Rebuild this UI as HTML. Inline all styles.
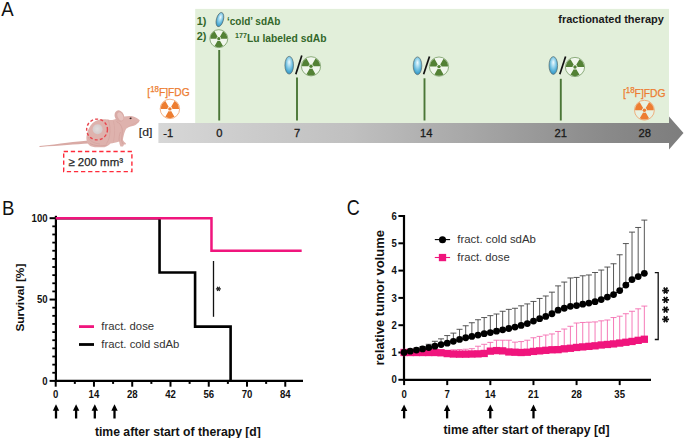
<!DOCTYPE html>
<html><head><meta charset="utf-8"><style>
html,body{margin:0;padding:0;background:#fff;}
body{width:685px;height:438px;position:relative;overflow:hidden;font-family:"Liberation Sans", sans-serif;}
</style></head><body>
<svg width="685" height="438" viewBox="0 0 685 438" style="position:absolute;left:0;top:0" font-family="'Liberation Sans', sans-serif">
<defs>
<linearGradient id="bar" x1="158" y1="0" x2="684" y2="0" gradientUnits="userSpaceOnUse">
<stop offset="0" stop-color="#d7d7d7"/><stop offset="0.061" stop-color="#d3d3d3"/><stop offset="0.184" stop-color="#cbcbcb"/><stop offset="0.365" stop-color="#c0c0c0"/><stop offset="0.603" stop-color="#a6a6a6"/><stop offset="0.85" stop-color="#8a8a8a"/><stop offset="0.964" stop-color="#808080"/><stop offset="1" stop-color="#7d7d7d"/></linearGradient>
<radialGradient id="eg" cx="0.5" cy="0.4" r="0.6" fx="0.5" fy="0.32">
<stop offset="0" stop-color="#f0fbff"/><stop offset="0.4" stop-color="#9ad5ec"/><stop offset="0.8" stop-color="#4aaad4"/><stop offset="1" stop-color="#358fbb"/></radialGradient>
<radialGradient id="tum" cx="0.45" cy="0.45" r="0.6"><stop offset="0" stop-color="#e2dcdc"/><stop offset="1" stop-color="#d2c8c8"/></radialGradient>
</defs>
<text x="1.3" y="15.8" font-size="19.8" fill="#111" textLength="12.4" lengthAdjust="spacingAndGlyphs">A</text>
<rect x="195.2" y="8.9" width="473.8" height="114.6" fill="#e2efda"/>
<path d="M158.4,123 L669,123 L669,116.5 L683.5,133 L669,149.5 L669,143 L158.4,143 Z" fill="url(#bar)"/>
<text x="138.8" y="135.9" font-size="11" fill="#262626" textLength="13.6" lengthAdjust="spacingAndGlyphs" stroke="#262626" stroke-width="0.15">[d]</text>
<text x="168.2" y="137.4" font-size="11.2" fill="#1a1a1a" text-anchor="middle" stroke="#1a1a1a" stroke-width="0.3">-1</text>
<text x="219.3" y="137.4" font-size="11.2" fill="#1a1a1a" text-anchor="middle" stroke="#1a1a1a" stroke-width="0.3">0</text>
<text x="297" y="137.4" font-size="11.2" fill="#1a1a1a" text-anchor="middle" stroke="#1a1a1a" stroke-width="0.3">7</text>
<text x="426.3" y="137.4" font-size="11.2" fill="#1a1a1a" text-anchor="middle" stroke="#1a1a1a" stroke-width="0.3">14</text>
<text x="560.8" y="137.4" font-size="11.2" fill="#1a1a1a" text-anchor="middle" stroke="#1a1a1a" stroke-width="0.3">21</text>
<text x="644.8" y="137.4" font-size="11.2" fill="#1a1a1a" text-anchor="middle" stroke="#1a1a1a" stroke-width="0.3">28</text>
<line x1="219.2" y1="50" x2="219.2" y2="120.5" stroke="#4a7636" stroke-width="1.9"/>
<line x1="297.0" y1="77.6" x2="297.0" y2="120.5" stroke="#4a7636" stroke-width="1.9"/>
<line x1="424.5" y1="78.3" x2="424.5" y2="120.5" stroke="#4a7636" stroke-width="1.9"/>
<line x1="560.8" y1="78.8" x2="560.8" y2="120.5" stroke="#4a7636" stroke-width="1.9"/>
<text x="196.8" y="24.5" font-size="10.8" fill="#33672a" font-weight="bold" textLength="9.7" lengthAdjust="spacingAndGlyphs">1)</text>
<text x="196.8" y="40.1" font-size="10.8" fill="#33672a" font-weight="bold" textLength="9.7" lengthAdjust="spacingAndGlyphs">2)</text>
<ellipse cx="219.9" cy="19.6" rx="3.5" ry="7.3" transform="rotate(15 219.9 19.6)" fill="url(#eg)" stroke="#5a6e70" stroke-width="0.7"/>
<text x="226.9" y="24.5" font-size="10.8" fill="#33672a" font-weight="bold" textLength="53.5" lengthAdjust="spacingAndGlyphs">‘cold’ sdAb</text>
<circle cx="218.8" cy="38.65" r="8.97" fill="#f1f7ed" stroke="#6f955c" stroke-width="0.75"/>
<path d="M221.14,38.65 L227.26,38.65 A8.46,8.46 0 0 0 223.03,31.32 L219.97,36.63 A2.34,2.34 0 0 1 221.14,38.65Z" fill="#538135"/>
<path d="M217.63,36.63 L214.57,31.32 A8.46,8.46 0 0 0 210.34,38.65 L216.46,38.65 A2.34,2.34 0 0 1 217.63,36.63Z" fill="#538135"/>
<path d="M217.63,40.67 L214.57,45.98 A8.46,8.46 0 0 0 223.03,45.98 L219.97,40.67 A2.34,2.34 0 0 1 217.63,40.67Z" fill="#538135"/>
<circle cx="218.8" cy="38.65" r="1.59" fill="#538135"/>
<text x="235" y="41.7" font-size="10.8" fill="#33672a" font-weight="bold" textLength="91.5" lengthAdjust="spacingAndGlyphs"><tspan font-size="7.5" dy="-3.6">177</tspan><tspan dy="3.6">Lu labeled sdAb</tspan></text>
<text x="558.3" y="23.1" font-size="11" fill="#1a1a1a" font-weight="bold" textLength="105.6" lengthAdjust="spacingAndGlyphs">fractionated therapy</text>
<ellipse cx="289.2" cy="65.2" rx="4.3" ry="8.9" transform="rotate(0 289.2 65.2)" fill="url(#eg)" stroke="#5a6e70" stroke-width="0.7"/>
<line x1="295.8" y1="74.2" x2="301.8" y2="55.5" stroke="#111" stroke-width="1.7"/>
<circle cx="311.0" cy="66.3" r="9.62" fill="#f1f7ed" stroke="#6f955c" stroke-width="0.75"/>
<path d="M313.50,66.30 L320.05,66.30 A9.05,9.05 0 0 0 315.52,58.46 L312.25,64.13 A2.50,2.50 0 0 1 313.50,66.30Z" fill="#538135"/>
<path d="M309.75,64.13 L306.48,58.46 A9.05,9.05 0 0 0 301.95,66.30 L308.50,66.30 A2.50,2.50 0 0 1 309.75,64.13Z" fill="#538135"/>
<path d="M309.75,68.47 L306.48,74.14 A9.05,9.05 0 0 0 315.52,74.14 L312.25,68.47 A2.50,2.50 0 0 1 309.75,68.47Z" fill="#538135"/>
<circle cx="311.0" cy="66.3" r="1.70" fill="#538135"/>
<ellipse cx="417.5" cy="65.8" rx="4.3" ry="8.9" transform="rotate(0 417.5 65.8)" fill="url(#eg)" stroke="#5a6e70" stroke-width="0.7"/>
<line x1="423.6" y1="74.2" x2="429.5" y2="56.5" stroke="#111" stroke-width="1.7"/>
<circle cx="439.0" cy="66.6" r="9.62" fill="#f1f7ed" stroke="#6f955c" stroke-width="0.75"/>
<path d="M441.50,66.60 L448.05,66.60 A9.05,9.05 0 0 0 443.52,58.76 L440.25,64.43 A2.50,2.50 0 0 1 441.50,66.60Z" fill="#538135"/>
<path d="M437.75,64.43 L434.48,58.76 A9.05,9.05 0 0 0 429.95,66.60 L436.50,66.60 A2.50,2.50 0 0 1 437.75,64.43Z" fill="#538135"/>
<path d="M437.75,68.77 L434.48,74.44 A9.05,9.05 0 0 0 443.52,74.44 L440.25,68.77 A2.50,2.50 0 0 1 437.75,68.77Z" fill="#538135"/>
<circle cx="439.0" cy="66.6" r="1.70" fill="#538135"/>
<ellipse cx="553.3" cy="65.5" rx="4.3" ry="8.9" transform="rotate(0 553.3 65.5)" fill="url(#eg)" stroke="#5a6e70" stroke-width="0.7"/>
<line x1="559.8" y1="74.2" x2="565.6" y2="56.5" stroke="#111" stroke-width="1.7"/>
<circle cx="575.0" cy="67.0" r="9.62" fill="#f1f7ed" stroke="#6f955c" stroke-width="0.75"/>
<path d="M577.50,67.00 L584.05,67.00 A9.05,9.05 0 0 0 579.52,59.16 L576.25,64.83 A2.50,2.50 0 0 1 577.50,67.00Z" fill="#538135"/>
<path d="M573.75,64.83 L570.48,59.16 A9.05,9.05 0 0 0 565.95,67.00 L572.50,67.00 A2.50,2.50 0 0 1 573.75,64.83Z" fill="#538135"/>
<path d="M573.75,69.17 L570.48,74.84 A9.05,9.05 0 0 0 579.52,74.84 L576.25,69.17 A2.50,2.50 0 0 1 573.75,69.17Z" fill="#538135"/>
<circle cx="575.0" cy="67.0" r="1.70" fill="#538135"/>
<text x="147.3" y="95.9" font-size="10.6" fill="#ed7d31" stroke="#ed7d31" stroke-width="0.25" textLength="42.3" lengthAdjust="spacingAndGlyphs">[<tspan font-size="8.2" dy="-3.7">18</tspan><tspan dy="3.7">F]FDG</tspan></text>
<circle cx="169.9" cy="108.9" r="9.72" fill="#fff" stroke="#f09a5e" stroke-width="0.75"/>
<path d="M172.43,108.90 L179.04,108.90 A9.14,9.14 0 0 0 174.47,100.98 L171.16,106.71 A2.52,2.52 0 0 1 172.43,108.90Z" fill="#ed7d31"/>
<path d="M168.64,106.71 L165.33,100.98 A9.14,9.14 0 0 0 160.76,108.90 L167.38,108.90 A2.52,2.52 0 0 1 168.64,106.71Z" fill="#ed7d31"/>
<path d="M168.64,111.09 L165.33,116.82 A9.14,9.14 0 0 0 174.47,116.82 L171.16,111.09 A2.52,2.52 0 0 1 168.64,111.09Z" fill="#ed7d31"/>
<circle cx="169.9" cy="108.9" r="1.72" fill="#ed7d31"/>
<text x="622.9" y="96.6" font-size="10.6" fill="#ed7d31" stroke="#ed7d31" stroke-width="0.25" textLength="42.6" lengthAdjust="spacingAndGlyphs">[<tspan font-size="8.2" dy="-3.7">18</tspan><tspan dy="3.7">F]FDG</tspan></text>
<circle cx="644.4" cy="110.2" r="9.93" fill="#e8f2e2" stroke="#f09a5e" stroke-width="0.75"/>
<path d="M646.98,110.20 L653.72,110.20 A9.32,9.32 0 0 0 649.06,102.13 L645.69,107.97 A2.58,2.58 0 0 1 646.98,110.20Z" fill="#ed7d31"/>
<path d="M643.11,107.97 L639.74,102.13 A9.32,9.32 0 0 0 635.08,110.20 L641.82,110.20 A2.58,2.58 0 0 1 643.11,107.97Z" fill="#ed7d31"/>
<path d="M643.11,112.43 L639.74,118.27 A9.32,9.32 0 0 0 649.06,118.27 L645.69,112.43 A2.58,2.58 0 0 1 643.11,112.43Z" fill="#ed7d31"/>
<circle cx="644.4" cy="110.2" r="1.75" fill="#ed7d31"/>
<g>
<path d="M88.5,140.4 C76,141.4 60,143.6 39.6,146.1 C38.8,146.3 39.2,146.9 40.2,146.9 C60,145.7 76,144.5 88.5,143.6 Z" fill="#d9aaa5"/>
<path d="M88.2,144 C86.2,141 86,137.5 86.8,134.8 C87.3,131.5 88.6,128.4 90.6,125.4 C93,122 97,119.7 101,119.3 C104.5,119 108,119.4 110,119.9 C112,120.2 114,119.6 115,119.2 C118,118 121,117 124,116.6 C127,116 130,115.6 132.5,116.2 C135.5,117 138.5,118.8 139.8,120.3 C139.3,121.8 138.4,122.8 137.4,123.5 C136.2,124.6 135,125.4 133.8,125.8 C132.4,126.3 131,126.5 129.7,126.7 C128.5,127 127.6,127.4 126.9,128.1 C126,129 125.5,130 125.1,130.9 C124.5,132.5 124,134 123.7,135.4 C123.3,137 123,138.5 122.9,140 C123.5,141.2 124.5,142.2 125.5,143 C126.2,143.6 126.2,144.3 125.3,144.5 L123.5,144.5 C123.8,145.2 123.6,146.2 122.8,146.4 L120.5,146.4 C119.8,145 119.4,143.5 119.2,141.5 C116,142.5 113,143.2 110.5,143.6 C108.8,145.2 107,146.6 104.5,147.2 L95,147.2 C91.6,147 89.4,145.8 88.2,144 Z" fill="#deb2ad"/>
<path d="M116.5,121.5 C119.5,122.8 121.5,125.5 122.2,129 C122.6,132 121.8,136 121.6,140 C121.8,142 122.6,143.5 123.5,144.5" stroke="#cf9a95" stroke-width="0.6" fill="none"/>
<path d="M108,119.5 C110,124 110.5,130 109.5,136 C109,139 108,141.5 106.5,143.5" stroke="#d2a09b" stroke-width="0.6" fill="none"/>
<path d="M113.5,121 C115,127 115,134 113.5,141.5" stroke="#d4a39e" stroke-width="0.5" fill="none"/>
<path d="M119.2,141.5 C118.8,138 119.2,135 120.5,132" stroke="#cc9792" stroke-width="0.5" fill="none"/>
<path d="M90,143.5 C95,146 101,146.4 107,145" stroke="#cf9a95" stroke-width="0.6" fill="none"/>
<path d="M88,137 C90,141 94,143.5 100,144" stroke="#d19d98" stroke-width="0.5" fill="none"/>
<path d="M126.9,128.1 C130,125.2 134,123.6 138.6,121.8" stroke="#d6a6a1" stroke-width="0.5" fill="none"/>
<ellipse cx="119.4" cy="116.1" rx="4.6" ry="6.0" transform="rotate(-25 119.4 116.1)" fill="#d9aba6"/>
<ellipse cx="120.4" cy="116.4" rx="2.6" ry="4.3" transform="rotate(-25 120.4 116.4)" fill="#e6c2be"/>
<ellipse cx="130.6" cy="118.3" rx="1.1" ry="0.8" transform="rotate(-15 130.6 118.3)" fill="#3a2626"/>
<circle cx="97.6" cy="129.3" r="5.0" fill="url(#tum)"/>
<circle cx="97.05" cy="129.5" r="10.4" fill="none" stroke="#e8444c" stroke-width="1.4" stroke-dasharray="3 2.2"/>
</g>
<path d="M63.7,151.5 H131.9 V171.6 H63.7 Z" fill="none" stroke="#ff2b3a" stroke-width="1.4" stroke-dasharray="4.3 2.8"/>
<text x="68.4" y="165.6" font-size="11.4" fill="#262626" textLength="54.6" lengthAdjust="spacingAndGlyphs" stroke="#262626" stroke-width="0.25">≥ 200 mm³</text>
<text x="2.1" y="214.6" font-size="20.6" fill="#111" textLength="12.4" lengthAdjust="spacingAndGlyphs">B</text>
<line x1="52.3" y1="372.76" x2="56" y2="372.76" stroke="#000" stroke-width="1.8"/>
<line x1="52.3" y1="364.63" x2="56" y2="364.63" stroke="#000" stroke-width="1.8"/>
<line x1="52.3" y1="356.50" x2="56" y2="356.50" stroke="#000" stroke-width="1.8"/>
<line x1="52.3" y1="348.36" x2="56" y2="348.36" stroke="#000" stroke-width="1.8"/>
<line x1="52.3" y1="340.22" x2="56" y2="340.22" stroke="#000" stroke-width="1.8"/>
<line x1="52.3" y1="332.09" x2="56" y2="332.09" stroke="#000" stroke-width="1.8"/>
<line x1="52.3" y1="323.95" x2="56" y2="323.95" stroke="#000" stroke-width="1.8"/>
<line x1="52.3" y1="315.82" x2="56" y2="315.82" stroke="#000" stroke-width="1.8"/>
<line x1="52.3" y1="307.69" x2="56" y2="307.69" stroke="#000" stroke-width="1.8"/>
<line x1="52.3" y1="291.41" x2="56" y2="291.41" stroke="#000" stroke-width="1.8"/>
<line x1="52.3" y1="283.28" x2="56" y2="283.28" stroke="#000" stroke-width="1.8"/>
<line x1="52.3" y1="275.14" x2="56" y2="275.14" stroke="#000" stroke-width="1.8"/>
<line x1="52.3" y1="267.01" x2="56" y2="267.01" stroke="#000" stroke-width="1.8"/>
<line x1="52.3" y1="258.88" x2="56" y2="258.88" stroke="#000" stroke-width="1.8"/>
<line x1="52.3" y1="250.74" x2="56" y2="250.74" stroke="#000" stroke-width="1.8"/>
<line x1="52.3" y1="242.60" x2="56" y2="242.60" stroke="#000" stroke-width="1.8"/>
<line x1="52.3" y1="234.47" x2="56" y2="234.47" stroke="#000" stroke-width="1.8"/>
<line x1="52.3" y1="226.34" x2="56" y2="226.34" stroke="#000" stroke-width="1.8"/>
<line x1="49.6" y1="380.90" x2="56" y2="380.90" stroke="#000" stroke-width="2"/>
<line x1="49.6" y1="299.55" x2="56" y2="299.55" stroke="#000" stroke-width="2"/>
<line x1="49.6" y1="218.20" x2="56" y2="218.20" stroke="#000" stroke-width="2"/>
<line x1="55.9" y1="215.80" x2="55.9" y2="381.90" stroke="#000" stroke-width="2.2"/>
<line x1="54.9" y1="380.90" x2="303" y2="380.90" stroke="#000" stroke-width="2.2"/>
<line x1="55.70" y1="380.9" x2="55.70" y2="386.70" stroke="#000" stroke-width="2"/>
<text x="55.70" y="398.2" font-size="10.6" fill="#111" font-weight="bold" text-anchor="middle" textLength="5.34" lengthAdjust="spacingAndGlyphs">0</text>
<line x1="74.83" y1="380.9" x2="74.83" y2="383.90" stroke="#000" stroke-width="2"/>
<line x1="93.96" y1="380.9" x2="93.96" y2="386.70" stroke="#000" stroke-width="2"/>
<text x="93.96" y="398.2" font-size="10.6" fill="#111" font-weight="bold" text-anchor="middle" textLength="10.68" lengthAdjust="spacingAndGlyphs">14</text>
<line x1="113.09" y1="380.9" x2="113.09" y2="383.90" stroke="#000" stroke-width="2"/>
<line x1="132.22" y1="380.9" x2="132.22" y2="386.70" stroke="#000" stroke-width="2"/>
<text x="132.22" y="398.2" font-size="10.6" fill="#111" font-weight="bold" text-anchor="middle" textLength="10.68" lengthAdjust="spacingAndGlyphs">28</text>
<line x1="151.36" y1="380.9" x2="151.36" y2="383.90" stroke="#000" stroke-width="2"/>
<line x1="170.49" y1="380.9" x2="170.49" y2="386.70" stroke="#000" stroke-width="2"/>
<text x="170.49" y="398.2" font-size="10.6" fill="#111" font-weight="bold" text-anchor="middle" textLength="10.68" lengthAdjust="spacingAndGlyphs">42</text>
<line x1="189.62" y1="380.9" x2="189.62" y2="383.90" stroke="#000" stroke-width="2"/>
<line x1="208.75" y1="380.9" x2="208.75" y2="386.70" stroke="#000" stroke-width="2"/>
<text x="208.75" y="398.2" font-size="10.6" fill="#111" font-weight="bold" text-anchor="middle" textLength="10.68" lengthAdjust="spacingAndGlyphs">56</text>
<line x1="227.88" y1="380.9" x2="227.88" y2="383.90" stroke="#000" stroke-width="2"/>
<line x1="247.01" y1="380.9" x2="247.01" y2="386.70" stroke="#000" stroke-width="2"/>
<text x="247.01" y="398.2" font-size="10.6" fill="#111" font-weight="bold" text-anchor="middle" textLength="10.68" lengthAdjust="spacingAndGlyphs">70</text>
<line x1="266.14" y1="380.9" x2="266.14" y2="383.90" stroke="#000" stroke-width="2"/>
<line x1="285.27" y1="380.9" x2="285.27" y2="386.70" stroke="#000" stroke-width="2"/>
<text x="285.27" y="398.2" font-size="10.6" fill="#111" font-weight="bold" text-anchor="middle" textLength="10.68" lengthAdjust="spacingAndGlyphs">84</text>
<text x="47.6" y="384.50" font-size="10.6" fill="#111" font-weight="bold" text-anchor="end" textLength="5.34" lengthAdjust="spacingAndGlyphs">0</text>
<text x="47.6" y="303.15" font-size="10.6" fill="#111" font-weight="bold" text-anchor="end" textLength="10.68" lengthAdjust="spacingAndGlyphs">50</text>
<text x="47.6" y="221.80" font-size="10.6" fill="#111" font-weight="bold" text-anchor="end" textLength="16.02" lengthAdjust="spacingAndGlyphs">100</text>
<polyline points="55.70,218.20 159.55,218.20 159.55,272.43 195.08,272.43 195.08,326.67 230.61,326.67 230.61,380.90" fill="none" stroke="#000" stroke-width="2.6" stroke-linejoin="miter"/>
<polyline points="55.70,218.20 211.48,218.20 211.48,250.74 301.67,250.74" fill="none" stroke="#f0157d" stroke-width="2.5" stroke-linejoin="miter"/>
<line x1="213.5" y1="261" x2="213.5" y2="316.8" stroke="#111" stroke-width="1.3"/>
<path d="M215.90,288.90 L220.90,288.90 M217.15,286.73 L219.65,291.07 M219.65,286.73 L217.15,291.07 " stroke="#222" stroke-width="1.2" fill="none"/>
<line x1="79" y1="326.6" x2="94" y2="326.6" stroke="#f0157d" stroke-width="2.8"/>
<line x1="79" y1="344.5" x2="94" y2="344.5" stroke="#000" stroke-width="2.8"/>
<text x="101.3" y="330.3" font-size="11.2" fill="#333" textLength="52.8" lengthAdjust="spacingAndGlyphs">fract. dose</text>
<text x="101.3" y="347.9" font-size="11.2" fill="#333" textLength="78.1" lengthAdjust="spacingAndGlyphs">fract. cold sdAb</text>
<line x1="56" y1="408.3" x2="56" y2="418.5" stroke="#000" stroke-width="2.3"/><path d="M52.8,410.7 L56,404.3 L59.2,410.7 Z" fill="#000"/>
<line x1="76.1" y1="408.3" x2="76.1" y2="418.5" stroke="#000" stroke-width="2.3"/><path d="M72.89999999999999,410.7 L76.1,404.3 L79.3,410.7 Z" fill="#000"/>
<line x1="94.8" y1="408.3" x2="94.8" y2="418.5" stroke="#000" stroke-width="2.3"/><path d="M91.6,410.7 L94.8,404.3 L98.0,410.7 Z" fill="#000"/>
<line x1="114.5" y1="408.3" x2="114.5" y2="418.5" stroke="#000" stroke-width="2.3"/><path d="M111.3,410.7 L114.5,404.3 L117.7,410.7 Z" fill="#000"/>
<text transform="translate(23.7 297.6) rotate(-90)" font-size="11.4" font-weight="bold" fill="#111" text-anchor="middle" textLength="67.9" lengthAdjust="spacingAndGlyphs">Survival [%]</text>
<text x="94.9" y="436" font-size="12.2" fill="#111" font-weight="bold" textLength="166" lengthAdjust="spacingAndGlyphs">time after start of therapy [d]</text>
<text x="346.7" y="215.0" font-size="21.4" fill="#111" textLength="13.0" lengthAdjust="spacingAndGlyphs">C</text>
<line x1="398.4" y1="379.80" x2="404.5" y2="379.80" stroke="#000" stroke-width="2"/>
<text x="396.8" y="383.40" font-size="10.6" fill="#111" font-weight="bold" text-anchor="end" textLength="5.34" lengthAdjust="spacingAndGlyphs">0</text>
<line x1="398.4" y1="352.50" x2="404.5" y2="352.50" stroke="#000" stroke-width="2"/>
<text x="396.8" y="356.10" font-size="10.6" fill="#111" font-weight="bold" text-anchor="end" textLength="5.34" lengthAdjust="spacingAndGlyphs">1</text>
<line x1="398.4" y1="325.20" x2="404.5" y2="325.20" stroke="#000" stroke-width="2"/>
<text x="396.8" y="328.80" font-size="10.6" fill="#111" font-weight="bold" text-anchor="end" textLength="5.34" lengthAdjust="spacingAndGlyphs">2</text>
<line x1="398.4" y1="297.90" x2="404.5" y2="297.90" stroke="#000" stroke-width="2"/>
<text x="396.8" y="301.50" font-size="10.6" fill="#111" font-weight="bold" text-anchor="end" textLength="5.34" lengthAdjust="spacingAndGlyphs">3</text>
<line x1="398.4" y1="270.60" x2="404.5" y2="270.60" stroke="#000" stroke-width="2"/>
<text x="396.8" y="274.20" font-size="10.6" fill="#111" font-weight="bold" text-anchor="end" textLength="5.34" lengthAdjust="spacingAndGlyphs">4</text>
<line x1="398.4" y1="243.30" x2="404.5" y2="243.30" stroke="#000" stroke-width="2"/>
<text x="396.8" y="246.90" font-size="10.6" fill="#111" font-weight="bold" text-anchor="end" textLength="5.34" lengthAdjust="spacingAndGlyphs">5</text>
<line x1="398.4" y1="216.00" x2="404.5" y2="216.00" stroke="#000" stroke-width="2"/>
<text x="396.8" y="219.60" font-size="10.6" fill="#111" font-weight="bold" text-anchor="end" textLength="5.34" lengthAdjust="spacingAndGlyphs">6</text>
<line x1="404" y1="215.00" x2="404" y2="380.80" stroke="#000" stroke-width="2.2"/>
<line x1="403" y1="379.8" x2="651" y2="379.8" stroke="#000" stroke-width="2.2"/>
<line x1="404.10" y1="379.8" x2="404.10" y2="385.10" stroke="#000" stroke-width="2"/>
<text x="404.10" y="397.9" font-size="10.6" fill="#111" font-weight="bold" text-anchor="middle" textLength="5.34" lengthAdjust="spacingAndGlyphs">0</text>
<line x1="447.22" y1="379.8" x2="447.22" y2="385.10" stroke="#000" stroke-width="2"/>
<text x="447.22" y="397.9" font-size="10.6" fill="#111" font-weight="bold" text-anchor="middle" textLength="5.34" lengthAdjust="spacingAndGlyphs">7</text>
<line x1="490.34" y1="379.8" x2="490.34" y2="385.10" stroke="#000" stroke-width="2"/>
<text x="490.34" y="397.9" font-size="10.6" fill="#111" font-weight="bold" text-anchor="middle" textLength="10.68" lengthAdjust="spacingAndGlyphs">14</text>
<line x1="533.46" y1="379.8" x2="533.46" y2="385.10" stroke="#000" stroke-width="2"/>
<text x="533.46" y="397.9" font-size="10.6" fill="#111" font-weight="bold" text-anchor="middle" textLength="10.68" lengthAdjust="spacingAndGlyphs">21</text>
<line x1="576.58" y1="379.8" x2="576.58" y2="385.10" stroke="#000" stroke-width="2"/>
<text x="576.58" y="397.9" font-size="10.6" fill="#111" font-weight="bold" text-anchor="middle" textLength="10.68" lengthAdjust="spacingAndGlyphs">28</text>
<line x1="619.70" y1="379.8" x2="619.70" y2="385.10" stroke="#000" stroke-width="2"/>
<text x="619.70" y="397.9" font-size="10.6" fill="#111" font-weight="bold" text-anchor="middle" textLength="10.68" lengthAdjust="spacingAndGlyphs">35</text>
<line x1="404.1" y1="408.5" x2="404.1" y2="418.4" stroke="#000" stroke-width="2.3"/><path d="M400.90000000000003,410.9 L404.1,404.5 L407.3,410.9 Z" fill="#000"/>
<line x1="447.1" y1="408.5" x2="447.1" y2="418.4" stroke="#000" stroke-width="2.3"/><path d="M443.90000000000003,410.9 L447.1,404.5 L450.3,410.9 Z" fill="#000"/>
<line x1="490.3" y1="408.5" x2="490.3" y2="418.4" stroke="#000" stroke-width="2.3"/><path d="M487.1,410.9 L490.3,404.5 L493.5,410.9 Z" fill="#000"/>
<line x1="533.5" y1="408.5" x2="533.5" y2="418.4" stroke="#000" stroke-width="2.3"/><path d="M530.3,410.9 L533.5,404.5 L536.7,410.9 Z" fill="#000"/>
<text transform="translate(383.6 297.7) rotate(-90)" font-size="12.8" font-weight="bold" fill="#111" text-anchor="middle" textLength="135.5" lengthAdjust="spacingAndGlyphs">relative tumor volume</text>
<text x="443.5" y="433.7" font-size="12.2" fill="#111" font-weight="bold" textLength="166" lengthAdjust="spacingAndGlyphs">time after start of therapy [d]</text>
<path d="M404.10,352.50 V351.95 M401.10,351.95 H407.10" stroke="#444" stroke-width="0.9" fill="none"/>
<path d="M410.26,351.13 V349.77 M407.26,349.77 H413.26" stroke="#444" stroke-width="0.9" fill="none"/>
<path d="M416.42,350.04 V348.13 M413.42,348.13 H419.42" stroke="#444" stroke-width="0.9" fill="none"/>
<path d="M422.58,348.95 V346.49 M419.58,346.49 H425.58" stroke="#444" stroke-width="0.9" fill="none"/>
<path d="M428.74,347.59 V344.31 M425.74,344.31 H431.74" stroke="#444" stroke-width="0.9" fill="none"/>
<path d="M434.90,346.22 V341.31 M431.90,341.31 H437.90" stroke="#444" stroke-width="0.9" fill="none"/>
<path d="M441.06,344.58 V338.85 M438.06,338.85 H444.06" stroke="#444" stroke-width="0.9" fill="none"/>
<path d="M447.22,343.22 V335.57 M444.22,335.57 H450.22" stroke="#444" stroke-width="0.9" fill="none"/>
<path d="M453.38,341.31 V333.12 M450.38,333.12 H456.38" stroke="#444" stroke-width="0.9" fill="none"/>
<path d="M459.54,339.40 V329.30 M456.54,329.30 H462.54" stroke="#444" stroke-width="0.9" fill="none"/>
<path d="M465.70,337.76 V325.75 M462.70,325.75 H468.70" stroke="#444" stroke-width="0.9" fill="none"/>
<path d="M471.86,336.39 V322.74 M468.86,322.74 H474.86" stroke="#444" stroke-width="0.9" fill="none"/>
<path d="M478.02,335.03 V319.74 M475.02,319.74 H481.02" stroke="#444" stroke-width="0.9" fill="none"/>
<path d="M484.18,333.66 V317.56 M481.18,317.56 H487.18" stroke="#444" stroke-width="0.9" fill="none"/>
<path d="M490.34,332.57 V315.64 M487.34,315.64 H493.34" stroke="#444" stroke-width="0.9" fill="none"/>
<path d="M496.50,331.21 V314.01 M493.50,314.01 H499.50" stroke="#444" stroke-width="0.9" fill="none"/>
<path d="M502.66,329.84 V311.28 M499.66,311.28 H505.66" stroke="#444" stroke-width="0.9" fill="none"/>
<path d="M508.82,328.48 V309.37 M505.82,309.37 H511.82" stroke="#444" stroke-width="0.9" fill="none"/>
<path d="M514.98,327.11 V308.27 M511.98,308.27 H517.98" stroke="#444" stroke-width="0.9" fill="none"/>
<path d="M521.14,325.47 V305.82 M518.14,305.82 H524.14" stroke="#444" stroke-width="0.9" fill="none"/>
<path d="M527.30,323.56 V303.91 M524.30,303.91 H530.30" stroke="#444" stroke-width="0.9" fill="none"/>
<path d="M533.46,321.11 V301.45 M530.46,301.45 H536.46" stroke="#444" stroke-width="0.9" fill="none"/>
<path d="M539.62,318.65 V298.45 M536.62,298.45 H542.62" stroke="#444" stroke-width="0.9" fill="none"/>
<path d="M545.78,316.46 V295.99 M542.78,295.99 H548.78" stroke="#444" stroke-width="0.9" fill="none"/>
<path d="M551.94,313.73 V292.17 M548.94,292.17 H554.94" stroke="#444" stroke-width="0.9" fill="none"/>
<path d="M558.10,310.19 V285.89 M555.10,285.89 H561.10" stroke="#444" stroke-width="0.9" fill="none"/>
<path d="M564.26,308.27 V282.07 M561.26,282.07 H567.26" stroke="#444" stroke-width="0.9" fill="none"/>
<path d="M570.42,306.36 V277.97 M567.42,277.97 H573.42" stroke="#444" stroke-width="0.9" fill="none"/>
<path d="M576.58,305.54 V277.43 M573.58,277.43 H579.58" stroke="#444" stroke-width="0.9" fill="none"/>
<path d="M582.74,304.18 V275.79 M579.74,275.79 H585.74" stroke="#444" stroke-width="0.9" fill="none"/>
<path d="M588.90,303.09 V274.97 M585.90,274.97 H591.90" stroke="#444" stroke-width="0.9" fill="none"/>
<path d="M595.06,301.72 V272.51 M592.06,272.51 H598.06" stroke="#444" stroke-width="0.9" fill="none"/>
<path d="M601.22,299.54 V270.05 M598.22,270.05 H604.22" stroke="#444" stroke-width="0.9" fill="none"/>
<path d="M607.38,297.08 V267.05 M604.38,267.05 H610.38" stroke="#444" stroke-width="0.9" fill="none"/>
<path d="M613.54,294.62 V263.77 M610.54,263.77 H616.54" stroke="#444" stroke-width="0.9" fill="none"/>
<path d="M619.70,290.53 V254.77 M616.70,254.77 H622.70" stroke="#444" stroke-width="0.9" fill="none"/>
<path d="M625.86,285.07 V243.57 M622.86,243.57 H628.86" stroke="#444" stroke-width="0.9" fill="none"/>
<path d="M632.02,279.61 V232.11 M629.02,232.11 H635.02" stroke="#444" stroke-width="0.9" fill="none"/>
<path d="M638.18,276.61 V227.47 M635.18,227.47 H641.18" stroke="#444" stroke-width="0.9" fill="none"/>
<path d="M644.34,273.33 V220.10 M641.34,220.10 H647.34" stroke="#444" stroke-width="0.9" fill="none"/>
<path d="M404.10,352.50 V351.95 M401.10,351.95 H407.10" stroke="#f46cb0" stroke-width="0.9" fill="none"/>
<path d="M410.26,352.50 V351.68 M407.26,351.68 H413.26" stroke="#f46cb0" stroke-width="0.9" fill="none"/>
<path d="M416.42,352.50 V351.41 M413.42,351.41 H419.42" stroke="#f46cb0" stroke-width="0.9" fill="none"/>
<path d="M422.58,352.50 V351.13 M419.58,351.13 H425.58" stroke="#f46cb0" stroke-width="0.9" fill="none"/>
<path d="M428.74,352.50 V350.86 M425.74,350.86 H431.74" stroke="#f46cb0" stroke-width="0.9" fill="none"/>
<path d="M434.90,352.50 V350.59 M431.90,350.59 H437.90" stroke="#f46cb0" stroke-width="0.9" fill="none"/>
<path d="M441.06,352.77 V350.32 M438.06,350.32 H444.06" stroke="#f46cb0" stroke-width="0.9" fill="none"/>
<path d="M447.22,353.59 V350.32 M444.22,350.32 H450.22" stroke="#f46cb0" stroke-width="0.9" fill="none"/>
<path d="M453.38,354.00 V349.77 M450.38,349.77 H456.38" stroke="#f46cb0" stroke-width="0.9" fill="none"/>
<path d="M459.54,354.14 V349.50 M456.54,349.50 H462.54" stroke="#f46cb0" stroke-width="0.9" fill="none"/>
<path d="M465.70,354.14 V349.22 M462.70,349.22 H468.70" stroke="#f46cb0" stroke-width="0.9" fill="none"/>
<path d="M471.86,354.00 V348.68 M468.86,348.68 H474.86" stroke="#f46cb0" stroke-width="0.9" fill="none"/>
<path d="M478.02,353.87 V346.22 M475.02,346.22 H481.02" stroke="#f46cb0" stroke-width="0.9" fill="none"/>
<path d="M484.18,353.46 V344.31 M481.18,344.31 H487.18" stroke="#f46cb0" stroke-width="0.9" fill="none"/>
<path d="M490.34,351.13 V342.40 M487.34,342.40 H493.34" stroke="#f46cb0" stroke-width="0.9" fill="none"/>
<path d="M496.50,350.59 V340.22 M493.50,340.22 H499.50" stroke="#f46cb0" stroke-width="0.9" fill="none"/>
<path d="M502.66,350.86 V340.22 M499.66,340.22 H505.66" stroke="#f46cb0" stroke-width="0.9" fill="none"/>
<path d="M508.82,351.95 V340.22 M505.82,340.22 H511.82" stroke="#f46cb0" stroke-width="0.9" fill="none"/>
<path d="M514.98,352.23 V342.13 M511.98,342.13 H517.98" stroke="#f46cb0" stroke-width="0.9" fill="none"/>
<path d="M521.14,352.50 V341.58 M518.14,341.58 H524.14" stroke="#f46cb0" stroke-width="0.9" fill="none"/>
<path d="M527.30,352.23 V340.22 M524.30,340.22 H530.30" stroke="#f46cb0" stroke-width="0.9" fill="none"/>
<path d="M533.46,351.41 V337.76 M530.46,337.76 H536.46" stroke="#f46cb0" stroke-width="0.9" fill="none"/>
<path d="M539.62,350.86 V336.39 M536.62,336.39 H542.62" stroke="#f46cb0" stroke-width="0.9" fill="none"/>
<path d="M545.78,350.32 V335.03 M542.78,335.03 H548.78" stroke="#f46cb0" stroke-width="0.9" fill="none"/>
<path d="M551.94,349.77 V333.94 M548.94,333.94 H554.94" stroke="#f46cb0" stroke-width="0.9" fill="none"/>
<path d="M558.10,349.63 V331.48 M555.10,331.48 H561.10" stroke="#f46cb0" stroke-width="0.9" fill="none"/>
<path d="M564.26,348.81 V329.02 M561.26,329.02 H567.26" stroke="#f46cb0" stroke-width="0.9" fill="none"/>
<path d="M570.42,348.27 V326.29 M567.42,326.29 H573.42" stroke="#f46cb0" stroke-width="0.9" fill="none"/>
<path d="M576.58,347.45 V323.02 M573.58,323.02 H579.58" stroke="#f46cb0" stroke-width="0.9" fill="none"/>
<path d="M582.74,346.90 V322.47 M579.74,322.47 H585.74" stroke="#f46cb0" stroke-width="0.9" fill="none"/>
<path d="M588.90,346.36 V322.20 M585.90,322.20 H591.90" stroke="#f46cb0" stroke-width="0.9" fill="none"/>
<path d="M595.06,345.81 V321.92 M592.06,321.92 H598.06" stroke="#f46cb0" stroke-width="0.9" fill="none"/>
<path d="M601.22,344.99 V320.83 M598.22,320.83 H604.22" stroke="#f46cb0" stroke-width="0.9" fill="none"/>
<path d="M607.38,344.45 V320.01 M604.38,320.01 H610.38" stroke="#f46cb0" stroke-width="0.9" fill="none"/>
<path d="M613.54,343.90 V317.56 M610.54,317.56 H616.54" stroke="#f46cb0" stroke-width="0.9" fill="none"/>
<path d="M619.70,343.08 V316.19 M616.70,316.19 H622.70" stroke="#f46cb0" stroke-width="0.9" fill="none"/>
<path d="M625.86,342.26 V313.73 M622.86,313.73 H628.86" stroke="#f46cb0" stroke-width="0.9" fill="none"/>
<path d="M632.02,341.44 V311.28 M629.02,311.28 H635.02" stroke="#f46cb0" stroke-width="0.9" fill="none"/>
<path d="M638.18,340.35 V308.82 M635.18,308.82 H641.18" stroke="#f46cb0" stroke-width="0.9" fill="none"/>
<path d="M644.34,339.26 V306.09 M641.34,306.09 H647.34" stroke="#f46cb0" stroke-width="0.9" fill="none"/>
<polyline points="404.10,352.50 410.26,351.13 416.42,350.04 422.58,348.95 428.74,347.59 434.90,346.22 441.06,344.58 447.22,343.22 453.38,341.31 459.54,339.40 465.70,337.76 471.86,336.39 478.02,335.03 484.18,333.66 490.34,332.57 496.50,331.21 502.66,329.84 508.82,328.48 514.98,327.11 521.14,325.47 527.30,323.56 533.46,321.11 539.62,318.65 545.78,316.46 551.94,313.73 558.10,310.19 564.26,308.27 570.42,306.36 576.58,305.54 582.74,304.18 588.90,303.09 595.06,301.72 601.22,299.54 607.38,297.08 613.54,294.62 619.70,290.53 625.86,285.07 632.02,279.61 638.18,276.61 644.34,273.33" fill="none" stroke="#000" stroke-width="1"/>
<polyline points="404.10,352.50 410.26,352.50 416.42,352.50 422.58,352.50 428.74,352.50 434.90,352.50 441.06,352.77 447.22,353.59 453.38,354.00 459.54,354.14 465.70,354.14 471.86,354.00 478.02,353.87 484.18,353.46 490.34,351.13 496.50,350.59 502.66,350.86 508.82,351.95 514.98,352.23 521.14,352.50 527.30,352.23 533.46,351.41 539.62,350.86 545.78,350.32 551.94,349.77 558.10,349.63 564.26,348.81 570.42,348.27 576.58,347.45 582.74,346.90 588.90,346.36 595.06,345.81 601.22,344.99 607.38,344.45 613.54,343.90 619.70,343.08 625.86,342.26 632.02,341.44 638.18,340.35 644.34,339.26" fill="none" stroke="#f0157d" stroke-width="1"/>
<rect x="400.45" y="348.85" width="7.3" height="7.3" fill="#f0157d"/>
<rect x="406.61" y="348.85" width="7.3" height="7.3" fill="#f0157d"/>
<rect x="412.77" y="348.85" width="7.3" height="7.3" fill="#f0157d"/>
<rect x="418.93" y="348.85" width="7.3" height="7.3" fill="#f0157d"/>
<rect x="425.09" y="348.85" width="7.3" height="7.3" fill="#f0157d"/>
<rect x="431.25" y="348.85" width="7.3" height="7.3" fill="#f0157d"/>
<rect x="437.41" y="349.12" width="7.3" height="7.3" fill="#f0157d"/>
<rect x="443.57" y="349.94" width="7.3" height="7.3" fill="#f0157d"/>
<rect x="449.73" y="350.35" width="7.3" height="7.3" fill="#f0157d"/>
<rect x="455.89" y="350.49" width="7.3" height="7.3" fill="#f0157d"/>
<rect x="462.05" y="350.49" width="7.3" height="7.3" fill="#f0157d"/>
<rect x="468.21" y="350.35" width="7.3" height="7.3" fill="#f0157d"/>
<rect x="474.37" y="350.22" width="7.3" height="7.3" fill="#f0157d"/>
<rect x="480.53" y="349.81" width="7.3" height="7.3" fill="#f0157d"/>
<rect x="486.69" y="347.49" width="7.3" height="7.3" fill="#f0157d"/>
<rect x="492.85" y="346.94" width="7.3" height="7.3" fill="#f0157d"/>
<rect x="499.01" y="347.21" width="7.3" height="7.3" fill="#f0157d"/>
<rect x="505.17" y="348.30" width="7.3" height="7.3" fill="#f0157d"/>
<rect x="511.33" y="348.58" width="7.3" height="7.3" fill="#f0157d"/>
<rect x="517.49" y="348.85" width="7.3" height="7.3" fill="#f0157d"/>
<rect x="523.65" y="348.58" width="7.3" height="7.3" fill="#f0157d"/>
<rect x="529.81" y="347.76" width="7.3" height="7.3" fill="#f0157d"/>
<rect x="535.97" y="347.21" width="7.3" height="7.3" fill="#f0157d"/>
<rect x="542.13" y="346.67" width="7.3" height="7.3" fill="#f0157d"/>
<rect x="548.29" y="346.12" width="7.3" height="7.3" fill="#f0157d"/>
<rect x="554.45" y="345.98" width="7.3" height="7.3" fill="#f0157d"/>
<rect x="560.61" y="345.16" width="7.3" height="7.3" fill="#f0157d"/>
<rect x="566.77" y="344.62" width="7.3" height="7.3" fill="#f0157d"/>
<rect x="572.93" y="343.80" width="7.3" height="7.3" fill="#f0157d"/>
<rect x="579.09" y="343.25" width="7.3" height="7.3" fill="#f0157d"/>
<rect x="585.25" y="342.71" width="7.3" height="7.3" fill="#f0157d"/>
<rect x="591.41" y="342.16" width="7.3" height="7.3" fill="#f0157d"/>
<rect x="597.57" y="341.34" width="7.3" height="7.3" fill="#f0157d"/>
<rect x="603.73" y="340.80" width="7.3" height="7.3" fill="#f0157d"/>
<rect x="609.89" y="340.25" width="7.3" height="7.3" fill="#f0157d"/>
<rect x="616.05" y="339.43" width="7.3" height="7.3" fill="#f0157d"/>
<rect x="622.21" y="338.61" width="7.3" height="7.3" fill="#f0157d"/>
<rect x="628.37" y="337.79" width="7.3" height="7.3" fill="#f0157d"/>
<rect x="634.53" y="336.70" width="7.3" height="7.3" fill="#f0157d"/>
<rect x="640.69" y="335.61" width="7.3" height="7.3" fill="#f0157d"/>
<circle cx="404.10" cy="352.50" r="3.4" fill="#000"/>
<circle cx="410.26" cy="351.13" r="3.4" fill="#000"/>
<circle cx="416.42" cy="350.04" r="3.4" fill="#000"/>
<circle cx="422.58" cy="348.95" r="3.4" fill="#000"/>
<circle cx="428.74" cy="347.59" r="3.4" fill="#000"/>
<circle cx="434.90" cy="346.22" r="3.4" fill="#000"/>
<circle cx="441.06" cy="344.58" r="3.4" fill="#000"/>
<circle cx="447.22" cy="343.22" r="3.4" fill="#000"/>
<circle cx="453.38" cy="341.31" r="3.4" fill="#000"/>
<circle cx="459.54" cy="339.40" r="3.4" fill="#000"/>
<circle cx="465.70" cy="337.76" r="3.4" fill="#000"/>
<circle cx="471.86" cy="336.39" r="3.4" fill="#000"/>
<circle cx="478.02" cy="335.03" r="3.4" fill="#000"/>
<circle cx="484.18" cy="333.66" r="3.4" fill="#000"/>
<circle cx="490.34" cy="332.57" r="3.4" fill="#000"/>
<circle cx="496.50" cy="331.21" r="3.4" fill="#000"/>
<circle cx="502.66" cy="329.84" r="3.4" fill="#000"/>
<circle cx="508.82" cy="328.48" r="3.4" fill="#000"/>
<circle cx="514.98" cy="327.11" r="3.4" fill="#000"/>
<circle cx="521.14" cy="325.47" r="3.4" fill="#000"/>
<circle cx="527.30" cy="323.56" r="3.4" fill="#000"/>
<circle cx="533.46" cy="321.11" r="3.4" fill="#000"/>
<circle cx="539.62" cy="318.65" r="3.4" fill="#000"/>
<circle cx="545.78" cy="316.46" r="3.4" fill="#000"/>
<circle cx="551.94" cy="313.73" r="3.4" fill="#000"/>
<circle cx="558.10" cy="310.19" r="3.4" fill="#000"/>
<circle cx="564.26" cy="308.27" r="3.4" fill="#000"/>
<circle cx="570.42" cy="306.36" r="3.4" fill="#000"/>
<circle cx="576.58" cy="305.54" r="3.4" fill="#000"/>
<circle cx="582.74" cy="304.18" r="3.4" fill="#000"/>
<circle cx="588.90" cy="303.09" r="3.4" fill="#000"/>
<circle cx="595.06" cy="301.72" r="3.4" fill="#000"/>
<circle cx="601.22" cy="299.54" r="3.4" fill="#000"/>
<circle cx="607.38" cy="297.08" r="3.4" fill="#000"/>
<circle cx="613.54" cy="294.62" r="3.4" fill="#000"/>
<circle cx="619.70" cy="290.53" r="3.4" fill="#000"/>
<circle cx="625.86" cy="285.07" r="3.4" fill="#000"/>
<circle cx="632.02" cy="279.61" r="3.4" fill="#000"/>
<circle cx="638.18" cy="276.61" r="3.4" fill="#000"/>
<circle cx="644.34" cy="273.33" r="3.4" fill="#000"/>
<line x1="434.8" y1="239.6" x2="450.1" y2="239.6" stroke="#000" stroke-width="1.1"/>
<circle cx="442.5" cy="239.8" r="3.55" fill="#000"/>
<line x1="434.8" y1="257.5" x2="450.1" y2="257.5" stroke="#f0157d" stroke-width="1.1"/>
<rect x="438.85" y="253.9" width="7.3" height="7.3" fill="#f0157d"/>
<text x="457.3" y="242.8" font-size="11.2" fill="#333" textLength="78.6" lengthAdjust="spacingAndGlyphs">fract. cold sdAb</text>
<text x="457.3" y="260.5" font-size="11.2" fill="#333" textLength="52.4" lengthAdjust="spacingAndGlyphs">fract. dose</text>
<path d="M654.8,272.7 H658.2 V339.5 H654.8" fill="none" stroke="#111" stroke-width="1.3"/>
<path d="M662.15,290.50 L669.05,290.50 M663.88,287.51 L667.33,293.49 M667.33,287.51 L663.88,293.49 " stroke="#111" stroke-width="1.75" fill="none"/>
<path d="M662.15,299.90 L669.05,299.90 M663.88,296.91 L667.33,302.89 M667.33,296.91 L663.88,302.89 " stroke="#111" stroke-width="1.75" fill="none"/>
<path d="M662.15,309.60 L669.05,309.60 M663.88,306.61 L667.33,312.59 M667.33,306.61 L663.88,312.59 " stroke="#111" stroke-width="1.75" fill="none"/>
<path d="M662.15,319.30 L669.05,319.30 M663.88,316.31 L667.33,322.29 M667.33,316.31 L663.88,322.29 " stroke="#111" stroke-width="1.75" fill="none"/>
</svg>
</body></html>
